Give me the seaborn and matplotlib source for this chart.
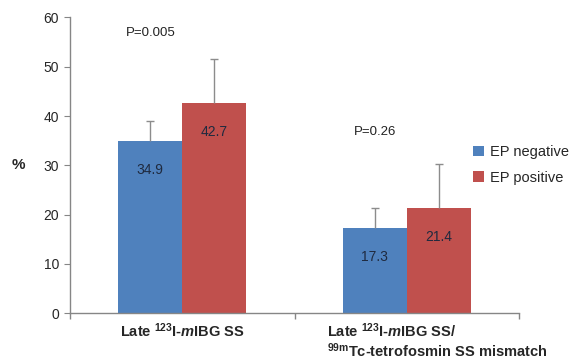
import pandas as pd
import matplotlib
matplotlib.use("Agg")
import matplotlib.pyplot as plt
import matplotlib.transforms as mtransforms
import seaborn as sns

# Data
groups = [r"Late $^{\mathbf{123}}$I-$\mathbfit{m}$IBG SS",
          "Late $^{\\mathbf{123}}$I-$\\mathbfit{m}$IBG SS/\n$^{\\mathbf{99m}}$Tc-tetrofosmin SS mismatch"]
series = ["EP negative", "EP positive"]
ep_negative = [34.9, 17.3]
ep_positive = [42.7, 21.4]
err_negative = [4.0, 4.0]
err_positive = [8.9, 8.8]
p_labels = ["P=0.005", "P=0.26"]
p_pos = [(-0.14, 56.8), (0.86, 36.8)]

colors = ["#4F81BD", "#C0504D"]

df = pd.DataFrame({
    "group": groups * 2,
    "series": [series[0]] * 2 + [series[1]] * 2,
    "value": ep_negative + ep_positive,
})

sns.set_style("white")
plt.rcParams['font.family'] = ['Liberation Sans', 'DejaVu Sans']
plt.rcParams['mathtext.fontset'] = 'custom'
plt.rcParams['mathtext.rm'] = 'Liberation Sans'
plt.rcParams['mathtext.it'] = 'Liberation Sans:italic'
plt.rcParams['mathtext.bf'] = 'Liberation Sans:bold'
plt.rcParams['mathtext.bfit'] = 'Liberation Sans:bold:italic'

fig = plt.figure(figsize=(5.86, 3.62), dpi=100)
ax = fig.add_axes([0.1195, 0.1345, 0.7665, 0.8175])

sns.barplot(data=df, x="group", y="value", hue="series", order=groups,
            hue_order=series, palette=colors, width=0.57, saturation=1,
            errorbar=None, linewidth=0, ax=ax)

# upward-only error bars and inside value labels
for cont, errs in zip(ax.containers, [err_negative, err_positive]):
    xs = [p.get_x() + p.get_width() / 2 for p in cont.patches]
    ys = [p.get_height() for p in cont.patches]
    eb = ax.errorbar(xs, ys, yerr=[[0] * len(errs), errs], fmt="none",
                     ecolor="#8C8C8C", elinewidth=1, capsize=3, capthick=1)
    eb[1][0].set_visible(False)  # hide the cap at the bar top
    for x, y in zip(xs, ys):
        ax.annotate(f"{y:.1f}", (x, y), xytext=(0, -21), textcoords="offset points",
                    ha="center", va="center", fontsize=10, color="#1F2A3F")

for txt, (px, py) in zip(p_labels, p_pos):
    ax.text(px, py, txt, ha="center", va="center", fontsize=9.5, color="#222222")

ax.set_xlim(-0.5, 1.5)
ax.set_ylim(0, 60)
ax.set_yticks(range(0, 61, 10))
ax.set_xticks([-0.5, 0.5, 1.5], minor=True)
ax.tick_params(axis="x", which="major", length=0, pad=6)
ax.tick_params(axis="x", which="minor", length=4, direction="out", color="#868686", width=1)
ax.tick_params(axis="y", length=4, direction="out", color="#868686", labelsize=10, pad=4)
ax.xaxis.set_tick_params(bottom=True, which="minor")
ax.yaxis.set_tick_params(left=True)

for lbl in ax.get_xticklabels():
    lbl.set_fontweight("bold")
    lbl.set_fontsize(10.5)
    lbl.set_multialignment("left")
    lbl.set_linespacing(1.1)
xl = ax.get_xticklabels()
xl[1].set_transform(xl[1].get_transform() + mtransforms.ScaledTranslation(0.3, 0, fig.dpi_scale_trans))

ax.set_xlabel("")
ax.set_ylabel("%", rotation=0, fontsize=11, fontweight="bold", labelpad=18, va="center")

sns.despine(ax=ax)
for s in ["left", "bottom"]:
    ax.spines[s].set_color("#868686")
    ax.spines[s].set_linewidth(1)

handles, labels = ax.get_legend_handles_labels()
ax.get_legend().remove()
fig.legend(handles, labels, loc="upper left", bbox_to_anchor=(0.797, 0.615),
           frameon=False, fontsize=10.5, handlelength=0.75, handleheight=0.75,
           handletextpad=0.4, labelspacing=0.8, borderaxespad=0)

fig.savefig("out.png", dpi=100)
